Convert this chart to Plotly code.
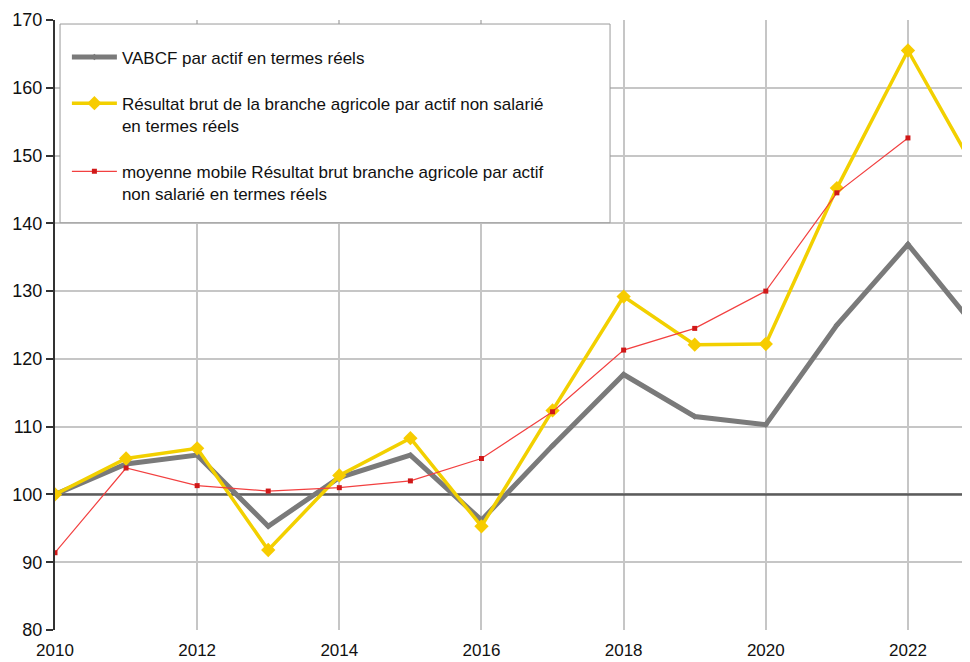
import plotly.graph_objects as go

years = [2010, 2011, 2012, 2013, 2014, 2015, 2016, 2017, 2018, 2019, 2020, 2021, 2022, 2023]
vabcf = [100, 104.5, 105.8, 95.3, 102.5, 105.8, 96.2, 107.2, 117.7, 111.5, 110.3, 125.0, 136.9, 124.0]
resultat = [100, 105.3, 106.8, 91.8, 102.8, 108.3, 95.3, 112.4, 129.2, 122.1, 122.2, 145.2, 165.5, 146.9]
moy_years = [2010, 2011, 2012, 2013, 2014, 2015, 2016, 2017, 2018, 2019, 2020, 2021, 2022]
moyenne = [91.4, 103.9, 101.3, 100.5, 101.0, 102.0, 105.3, 112.2, 121.3, 124.5, 130.0, 144.5, 152.6]
base_value = 100

names = [
    "VABCF par actif en termes réels",
    "Résultat brut de la branche agricole par actif non salarié<br>en termes réels",
    "moyenne mobile Résultat brut branche agricole par actif<br>non salarié en termes réels",
]

FONT = "Liberation Sans, Arial, sans-serif"

fig = go.Figure()
# reference line at base 100 (drawn under the series)
fig.add_trace(go.Scatter(
    x=[years[0] - 1, years[-1] + 1], y=[base_value, base_value],
    mode="lines", line=dict(color="#5c5c5c", width=2.5),
    showlegend=False, hoverinfo="skip",
))
fig.add_trace(go.Scatter(
    x=years, y=vabcf, name=names[0], legendgroup="a",
    mode="lines+markers",
    line=dict(color="#7a7a7a", width=5),
    marker=dict(symbol="diamond", size=5, color="#7a7a7a"),
))
fig.add_trace(go.Scatter(
    x=years, y=resultat, name=names[1], legendgroup="b",
    mode="lines+markers",
    line=dict(color="#f2d000", width=3.5),
    marker=dict(symbol="diamond", size=11, color="#f7cc00"),
))
fig.add_trace(go.Scatter(
    x=moy_years, y=moyenne, name=names[2], legendgroup="c",
    mode="lines+markers",
    line=dict(color="#f24040", width=1.2),
    marker=dict(symbol="square", size=5, color="#d01818"),
))

# Legend frame
fig.add_shape(type="rect", xref="paper", yref="paper",
              x0=0.0055, x1=0.6066, y0=0.6677, y1=0.9934,
              line=dict(color="#9a9a9a", width=1), fillcolor="white", layer="above")

fig.update_layout(
    width=962, height=654,
    margin=dict(l=47, r=0, t=12, b=32),
    paper_bgcolor="white", plot_bgcolor="white",
    font=dict(family=FONT, color="#111111", size=17),
    showlegend=True,
    legend=dict(
        x=0.013, y=0.968, xanchor="left", yanchor="top",
        bgcolor="rgba(0,0,0,0)", borderwidth=0,
        font=dict(family=FONT, size=17, color="#111111"),
        tracegroupgap=21, itemwidth=45, valign="top",
    ),
    xaxis=dict(
        range=[2010, 2022.873], dtick=2, tick0=2010,
        showgrid=True, gridcolor="#c6c6c6", gridwidth=2,
        zeroline=False, showline=False, ticks="",
        ticklabelstandoff=8, automargin=False,
        tickfont=dict(size=17, family=FONT, color="#111111"),
    ),
    yaxis=dict(
        range=[80, 170], dtick=10, tick0=80,
        showgrid=True, gridcolor="#c6c6c6", gridwidth=2,
        zeroline=False, showline=True, linecolor="#333333", linewidth=2,
        ticks="outside", ticklen=7, tickcolor="#333333", tickwidth=1.5,
        automargin=False,
        tickfont=dict(size=18, family=FONT, color="#111111"),
    ),
)

fig.write_html("out.html")
